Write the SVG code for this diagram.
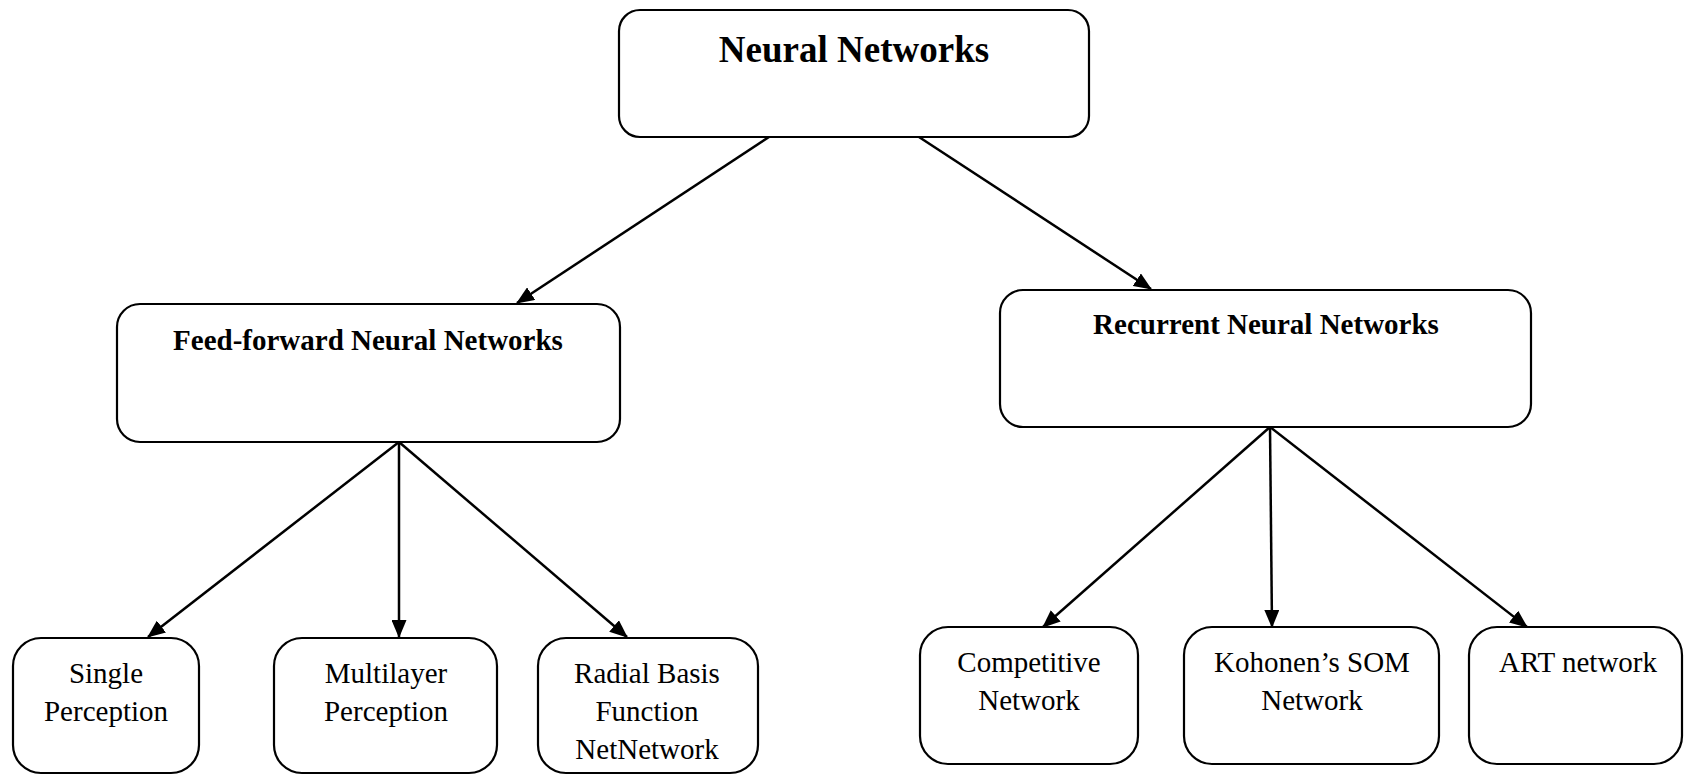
<svg xmlns="http://www.w3.org/2000/svg" width="1684" height="775" viewBox="0 0 1684 775">
  <style>
    .box { fill: #ffffff; stroke: #000000; stroke-width: 2.2; }
    .edge { fill: none; stroke: #000000; stroke-width: 2.5; marker-end: url(#arrow); }
    .title { font-family: "Liberation Serif", "Times New Roman", serif; font-weight: bold; font-size: 37px; text-anchor: middle; fill: #000; }
    .head { font-family: "Liberation Serif", "Times New Roman", serif; font-weight: bold; font-size: 29px; text-anchor: middle; fill: #000; }
    .leaf { font-family: "Liberation Serif", "Times New Roman", serif; font-size: 29px; text-anchor: middle; fill: #000; }
  </style>
  <defs>
    <marker id="arrow" markerUnits="userSpaceOnUse" markerWidth="18" markerHeight="15" refX="17" refY="7.5" orient="auto">
      <path d="M0,0 L18,7.5 L0,15 z" fill="#000"/>
    </marker>
  </defs>
  <rect width="1684" height="775" fill="#ffffff"/>

  <!-- connectors -->
  <g id="connectors">
    <line class="edge" x1="769" y1="137" x2="517" y2="303"/>
    <line class="edge" x1="919" y1="137" x2="1151" y2="289"/>
    <line class="edge" x1="399" y1="442" x2="148" y2="637"/>
    <line class="edge" x1="399" y1="442" x2="399" y2="637"/>
    <line class="edge" x1="399" y1="442" x2="627" y2="637"/>
    <line class="edge" x1="1270" y1="427" x2="1043" y2="627"/>
    <line class="edge" x1="1270" y1="427" x2="1272" y2="627"/>
    <line class="edge" x1="1270" y1="427" x2="1527" y2="627"/>
  </g>

  <!-- root -->
  <g id="neural-networks">
    <rect class="box" x="619" y="10" width="470" height="127" rx="21"/>
    <text class="title" x="854" y="62">Neural Networks</text>
  </g>

  <!-- second level -->
  <g id="feed-forward">
    <rect class="box" x="117" y="304" width="503" height="138" rx="23"/>
    <text class="head" x="368" y="350">Feed-forward Neural Networks</text>
  </g>
  <g id="recurrent">
    <rect class="box" x="1000" y="290" width="531" height="137" rx="23"/>
    <text class="head" x="1266" y="334">Recurrent Neural Networks</text>
  </g>

  <!-- feed-forward leaves -->
  <g id="single-perception">
    <rect class="box" x="13" y="638" width="186" height="135" rx="28"/>
    <text class="leaf" x="106" y="683">Single</text>
    <text class="leaf" x="106" y="721">Perception</text>
  </g>
  <g id="multilayer-perception">
    <rect class="box" x="274" y="638" width="223" height="135" rx="28"/>
    <text class="leaf" x="386" y="683">Multilayer</text>
    <text class="leaf" x="386" y="721">Perception</text>
  </g>
  <g id="radial-basis">
    <rect class="box" x="538" y="638" width="220" height="135" rx="28"/>
    <text class="leaf" x="647" y="683">Radial Basis</text>
    <text class="leaf" x="647" y="721">Function</text>
    <text class="leaf" x="647" y="759">NetNetwork</text>
  </g>

  <!-- recurrent leaves -->
  <g id="competitive">
    <rect class="box" x="920" y="627" width="218" height="137" rx="28"/>
    <text class="leaf" x="1029" y="672">Competitive</text>
    <text class="leaf" x="1029" y="710">Network</text>
  </g>
  <g id="kohonen-som">
    <rect class="box" x="1184" y="627" width="255" height="137" rx="28"/>
    <text class="leaf" x="1312" y="672">Kohonen’s SOM</text>
    <text class="leaf" x="1312" y="710">Network</text>
  </g>
  <g id="art-network">
    <rect class="box" x="1469" y="627" width="213" height="137" rx="28"/>
    <text class="leaf" x="1578" y="672">ART network</text>
  </g>
</svg>
